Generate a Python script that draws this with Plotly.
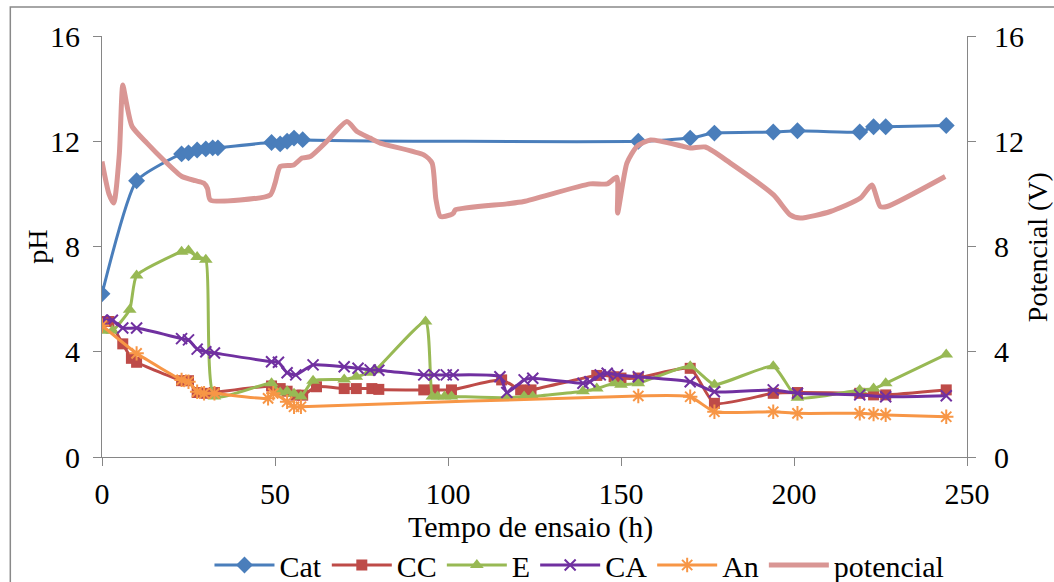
import plotly.graph_objects as go

# ---- data ----
cat_t = [0, 10, 23, 25, 27.5, 30, 32, 33.5, 49, 51.5, 53.5, 55.5, 58, 155, 170, 177, 194, 201, 219, 223, 226.5, 244]
cat_v = [6.2, 10.5, 11.52, 11.56, 11.67, 11.71, 11.75, 11.75, 11.95, 11.9, 12.0, 12.12, 12.06, 12.0, 12.12, 12.31, 12.35, 12.4, 12.35, 12.55, 12.55, 12.6]

cc_t = [0, 2, 6, 8.5, 10, 23, 25, 27.5, 30, 32.5, 49, 51.5, 53.5, 56, 58, 62, 70, 73.5, 78, 80, 93, 96, 101, 115.5, 121, 124, 143, 148, 150, 155, 170, 177, 194, 201, 219, 223, 226.5, 244]
cc_v = [5.15, 5.15, 4.3, 3.75, 3.6, 2.9, 2.9, 2.45, 2.42, 2.45, 2.7, 2.6, 2.5, 2.35, 2.35, 2.67, 2.6, 2.6, 2.6, 2.57, 2.55, 2.55, 2.55, 2.93, 2.55, 2.55, 3.1, 3.05, 3.0, 3.0, 3.37, 2.04, 2.42, 2.45, 2.42, 2.36, 2.36, 2.55]

e_t = [0, 3, 8, 10, 23, 25, 27.5, 30, 32.5, 49, 51.5, 53.5, 55.5, 57.5, 61, 70, 73.5, 77, 79, 93.5, 95.5, 97, 99, 101, 117, 122, 124.5, 139, 143, 148, 150, 155, 170, 177, 194, 201, 219, 223, 226.5, 244]
e_v = [4.8, 4.8, 5.6, 6.9, 7.8, 7.85, 7.6, 7.5, 2.3, 2.8, 2.45, 2.5, 2.4, 2.3, 2.9, 2.95, 3.05, 3.2, 3.3, 5.15, 2.3, 2.3, 2.3, 2.3, 2.25, 2.3, 2.3, 2.5, 2.6, 2.8, 2.75, 2.8, 3.45, 2.75, 3.45, 2.25, 2.55, 2.6, 2.8, 3.9]

ca_t = [0, 3, 6, 10, 23, 25, 27.5, 30, 32.5, 49, 51, 53.5, 56, 61, 70, 74, 77.5, 80, 93, 96, 99.5, 101.5, 115, 117, 122, 124.5, 139, 141, 144, 146, 149, 155, 170, 177, 194, 201, 219, 226.5, 244]
ca_v = [5.2, 5.2, 4.9, 4.9, 4.5, 4.45, 4.1, 4.0, 3.95, 3.62, 3.6, 3.2, 3.12, 3.5, 3.43, 3.37, 3.31, 3.3, 3.12, 3.12, 3.12, 3.12, 3.05, 2.45, 2.93, 2.99, 2.8, 2.86, 3.12, 3.18, 3.12, 3.05, 2.86, 2.48, 2.55, 2.42, 2.36, 2.29, 2.33]

an_t = [0, 10, 23, 25, 27.5, 29.5, 32.5, 48, 49.5, 53.5, 55.5, 57.5, 155, 170, 177, 194, 201, 219, 223, 226.5, 244]
an_v = [5.0, 3.94, 2.93, 2.86, 2.48, 2.42, 2.42, 2.23, 2.42, 2.1, 1.91, 1.91, 2.32, 2.29, 1.72, 1.72, 1.66, 1.66, 1.63, 1.6, 1.53]

pot_t = [0, 2, 3.4, 5, 6, 7, 8.7, 13, 17.8, 23.1, 27, 29.4, 30.5, 31.3, 48.6, 50, 51.5, 55.4, 57.8, 60.2, 65, 70.8, 73.7, 77.5, 80.4, 93, 95.4, 96.5, 97.8, 100.7, 101.6, 102.1, 117, 121.9, 141.1, 146, 148.8, 149, 151.7, 154.6, 158.5, 167.2, 170, 174.4, 181.6, 194.1, 198.9, 201.8, 210.5, 219.2, 222.5, 224.9, 226.9, 243.7]
pot_v = [11.23, 10.0, 9.65, 11.5, 14.14, 13.5, 12.56, 11.93, 11.29, 10.66, 10.5, 10.41, 10.2, 9.77, 9.96, 10.4, 11.04, 11.1, 11.36, 11.42, 12.0, 12.75, 12.37, 12.12, 11.93, 11.48, 11.17, 9.8, 9.14, 9.2, 9.27, 9.39, 9.62, 9.71, 10.38, 10.38, 10.63, 9.27, 11.17, 11.8, 12.05, 11.83, 11.74, 11.78, 11.17, 9.96, 9.2, 9.08, 9.33, 9.84, 10.34, 9.52, 9.52, 10.66]

x_ticks = [0, 50, 100, 150, 200, 250]
y_ticks = [0, 4, 8, 12, 16]

FONT = "Liberation Serif"
FS = 30
AX = "#868686"

fig = go.Figure()

def add(t, v, name, color, symbol, size, mline=None):
    marker = dict(symbol=symbol, size=size, color=color)
    if mline:
        marker["line"] = dict(color=color, width=mline)
    fig.add_trace(go.Scatter(x=t, y=v, name=name, mode="lines+markers",
                             line=dict(color=color, width=3, shape="spline", smoothing=0.5),
                             marker=marker))

add(cat_t, cat_v, "Cat", "#4A7EBB", "diamond", 13)
add(cc_t, cc_v, "CC", "#BE4B48", "square", 11)
add(e_t, e_v, "E", "#98B954", "triangle-up", 12)
add(ca_t, ca_v, "CA", "#7030A0", "x-thin", 11, 2)
add(an_t, an_v, "An", "#F79646", "asterisk-open", 12, 2)

fig.add_trace(go.Scatter(x=pot_t, y=pot_v, name="potencial", mode="lines", yaxis="y2",
                         line=dict(color="#D99694", width=5, shape="spline", smoothing=0.6)))

tickfont = dict(family=FONT, size=FS, color="black")
common = dict(showgrid=False, zeroline=False, showline=True, linecolor=AX, linewidth=1.2,
              ticks="outside", ticklen=8, tickcolor=AX, tickfont=tickfont, automargin=False)

fig.update_layout(
    width=1054, height=582,
    margin=dict(l=102, r=87, t=36, b=125, autoexpand=False),
    paper_bgcolor="white", plot_bgcolor="white",
    font=dict(family=FONT, size=FS, color="black"),
    showlegend=True,
    legend=dict(orientation="h", x=0.552, xanchor="center", y=-0.2565, yanchor="middle",
                itemwidth=60, font=dict(family=FONT, size=FS, color="black"),
                bgcolor="rgba(0,0,0,0)"),
    xaxis=dict(range=[0, 250], tickvals=x_ticks, ticklabelstandoff=2, **common),
    yaxis=dict(range=[0, 16], tickvals=y_ticks, ticklabelstandoff=7, **common),
    yaxis2=dict(range=[0, 16], tickvals=y_ticks, overlaying="y", side="right",
                ticklabelstandoff=12, **common),
    annotations=[
        dict(text="Tempo de ensaio (h)", xref="paper", yref="paper", x=0.495, y=-0.166,
             showarrow=False, font=dict(family=FONT, size=FS), xanchor="center", yanchor="middle"),
        dict(text="pH", xref="paper", yref="paper", x=-0.0748, y=0.5, textangle=-90,
             showarrow=False, font=dict(family=FONT, size=28), xanchor="center", yanchor="middle"),
        dict(text="Potencial (V)", xref="paper", yref="paper", x=1.0824, y=0.499, textangle=-90,
             showarrow=False, font=dict(family=FONT, size=28), xanchor="center", yanchor="middle"),
    ],
    shapes=[dict(type="rect", xref="paper", yref="paper", x0=-0.106, x1=1.2, y0=-0.5, y1=1.069,
                 line=dict(color="#898989", width=1.5), layer="below")],
)

fig.write_html("out.html")
